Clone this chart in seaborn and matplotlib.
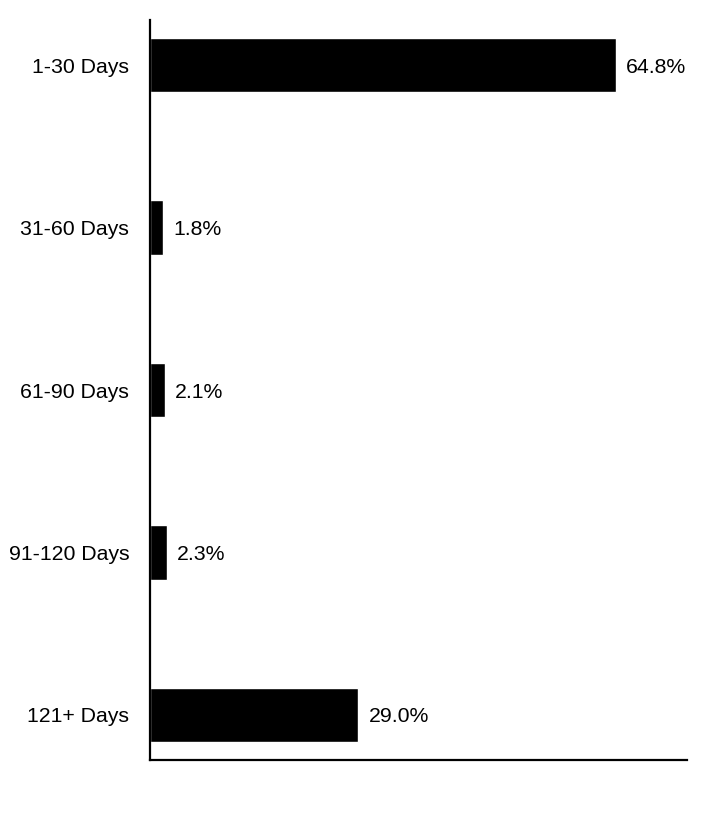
import pandas as pd
import matplotlib
matplotlib.use("Agg")
import matplotlib.pyplot as plt
import seaborn as sns

categories = ["1-30 Days", "31-60 Days", "61-90 Days", "91-120 Days", "121+ Days"]
values = [64.8, 1.8, 2.1, 2.3, 29.0]
value_labels = ["64.8%", "1.8%", "2.1%", "2.3%", "29.0%"]

df = pd.DataFrame({"bucket": categories, "pct": values})

sns.set_style("white")
plt.rcParams["font.family"] = ["Liberation Sans", "DejaVu Sans"]
plt.rcParams["text.color"] = "black"
plt.rcParams["ytick.color"] = "black"
plt.rcParams["ytick.labelcolor"] = "black"

fig = plt.figure(figsize=(7.08, 8.4), dpi=100)
ax = fig.add_axes([150 / 708, 80 / 840, 537 / 708, 740 / 840])

sns.barplot(data=df, y="bucket", x="pct", color="black", width=0.335,
            saturation=1, orient="h", ax=ax)

ax.set_xlim(0, 74.7)
ax.set_ylim(4.277, -0.277)

for i, (v, lab) in enumerate(zip(values, value_labels)):
    ax.text(v + 1.4, i, lab, va="center_baseline", ha="left", fontsize=15.3,
            color="black")

ax.set_xlabel("")
ax.set_ylabel("")
ax.set_xticks([])
ax.tick_params(axis="y", length=0, pad=15, labelsize=15.3, labelcolor="black")
sns.despine(ax=ax, top=True, right=True)
for s in ["left", "bottom"]:
    ax.spines[s].set_color("black")
    ax.spines[s].set_linewidth(1.6)

fig.savefig("out.png", dpi=100)
plt.close(fig)
